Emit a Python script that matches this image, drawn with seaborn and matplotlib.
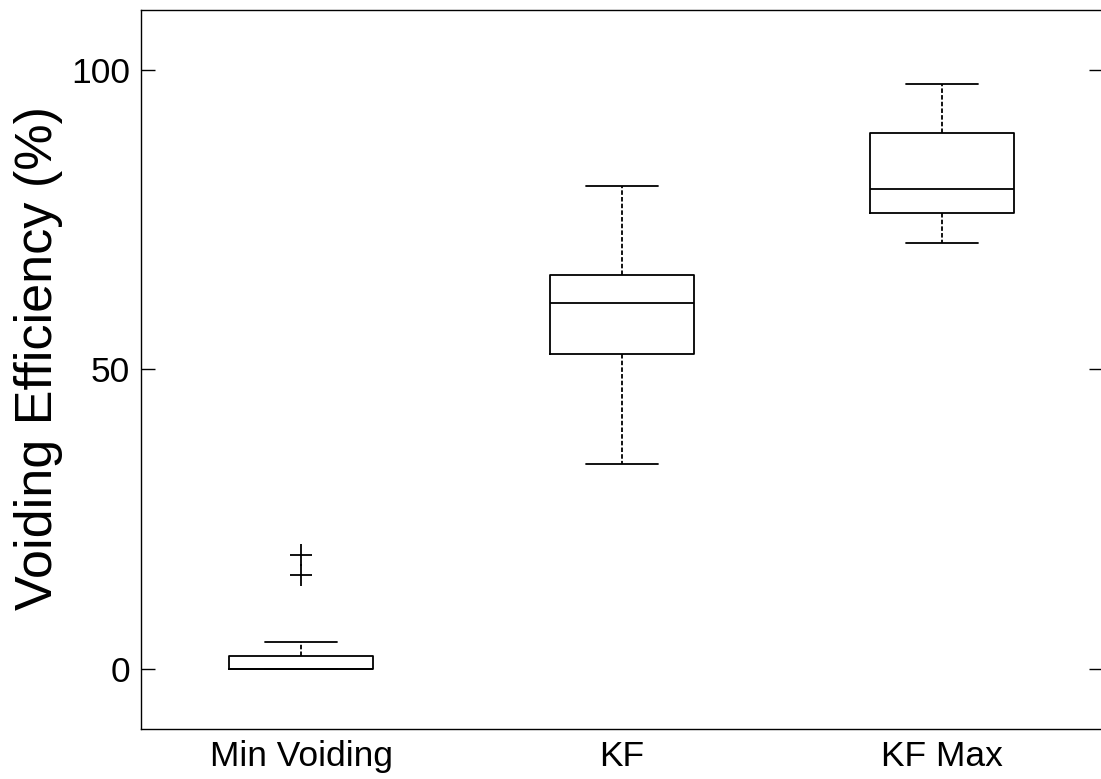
import pandas as pd
import matplotlib
matplotlib.use("agg")
import matplotlib.pyplot as plt
import seaborn as sns

# valores (cuartiles, bigotes y atipicos)
grupos = ["Min Voiding", "KF", "KF Max"]
min_voiding = [0, 0, 0, 0, 0, 0, 0, 1.0, 1.6, 2.1, 4.4, 15.6, 18.9]
kf = [34.25, 52.6, 61.0, 65.75, 80.6]
kf_max = [71.0, 76.1, 80.1, 89.4, 97.6]
y_ticks = [0, 50, 100]

df = pd.DataFrame({
    "grupo": ["Min Voiding"] * len(min_voiding) + ["KF"] * len(kf) + ["KF Max"] * len(kf_max),
    "valor": min_voiding + kf + kf_max,
})

sns.set_style("white")
plt.rcParams["font.family"] = ["Liberation Sans", "DejaVu Sans"]

fig = plt.figure(figsize=(11.01, 7.79), dpi=100)
ax = fig.add_axes([0.128, 0.0648, 0.8735, 0.9224])

sns.boxplot(data=df, x="grupo", y="valor", order=grupos, ax=ax,
            fill=False, color="black", width=0.45, linewidth=1.3,
            whiskerprops={"linestyle": (0, (2.5, 1.2))},
            flierprops={"marker": "+", "markersize": 16, "markeredgewidth": 1.3,
                        "markeredgecolor": "black"})

ax.set_xlim(-0.5, 2.5)
ax.set_ylim(-10, 110)
ax.set_yticks(y_ticks)
ax.set_xlabel("")
ax.set_ylabel("Voiding Efficiency (%)", fontsize=37.5, color="black")
ax.yaxis.set_label_coords(-0.081, 0.515)

ax.tick_params(axis="y", direction="in", length=10, width=1, left=True, right=True,
               labelsize=25.5, pad=8, colors="black")
ax.tick_params(axis="x", length=0, labelsize=25.5, pad=8, colors="black")
for s in ax.spines.values():
    s.set_visible(True)
    s.set_color("black")
    s.set_linewidth(1.0)

fig.savefig("out.png", dpi=100)
plt.close(fig)
